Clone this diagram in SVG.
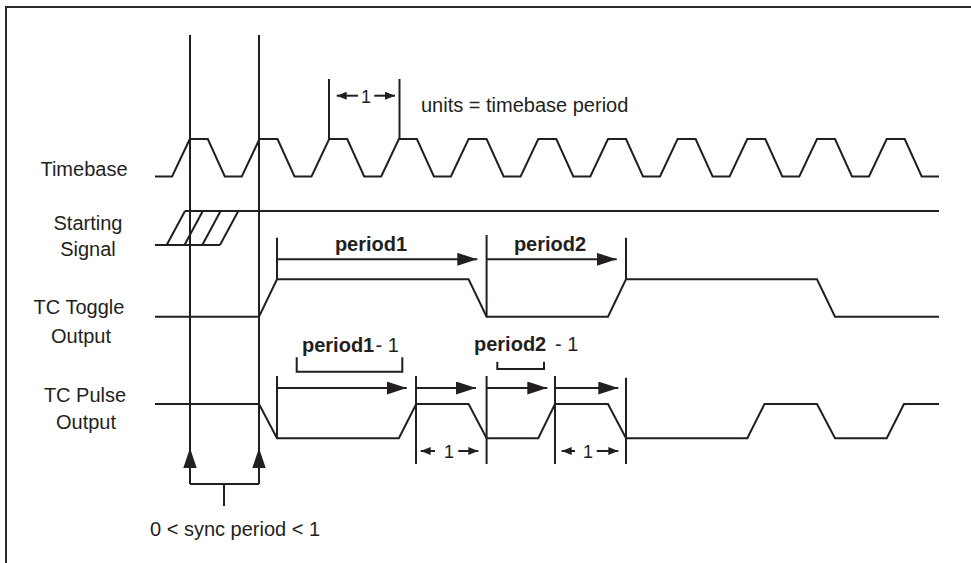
<svg xmlns="http://www.w3.org/2000/svg" width="971" height="563" viewBox="0 0 971 563">
<style>
.w{fill:none;stroke:#231f20;stroke-width:2;stroke-linejoin:miter}
.v{fill:none;stroke:#231f20;stroke-width:2}
.s{fill:none;stroke:#231f20;stroke-width:2}
.t{font-family:"Liberation Sans",Arial,sans-serif;font-size:20px;fill:#231f20}
.n{font-family:"Liberation Sans",Arial,sans-serif;font-size:18px;fill:#231f20}
.b{font-weight:bold}
</style>
<defs>
<marker id="big" markerUnits="userSpaceOnUse" markerWidth="21" markerHeight="14" refX="20" refY="6.5" orient="auto"><path d="M0,0 L20,6.5 L0,13 Z" fill="#231f20"/></marker>
<marker id="sm" markerUnits="userSpaceOnUse" markerWidth="11" markerHeight="9" refX="10" refY="4" orient="auto"><path d="M0,0 L10,4 L0,8 Z" fill="#231f20"/></marker>
<path id="up" d="M-6.7,20 L0,0 L6.7,20 Z" fill="#231f20"/>
</defs>
<rect width="971" height="563" fill="#fff"/>
<path d="M6,563 V7 H971" fill="none" stroke="#2b2b2b" stroke-width="2"/>

<g id="labels">
<text class="t" x="84" y="176" text-anchor="middle">Timebase</text>
<text class="t" x="88" y="230" text-anchor="middle">Starting</text>
<text class="t" x="88" y="256" text-anchor="middle">Signal</text>
<text class="t" x="79" y="314" text-anchor="middle">TC Toggle</text>
<text class="t" x="81" y="342.5" text-anchor="middle">Output</text>
<text class="t" x="85" y="401.5" text-anchor="middle">TC Pulse</text>
<text class="t" x="86" y="429" text-anchor="middle">Output</text>
</g>

<g id="timebase">
<path class="w" d="M155,176.5 H172.1 L189.8,139 H207.8 L224.8,176.5 H241.8 L259.5,139 H277.5 L294.5,176.5 H311.5 L329.2,139 H347.2 L364.2,176.5 H381.2 L398.9,139 H416.9 L433.9,176.5 H450.9 L468.6,139 H486.6 L503.6,176.5 H520.6 L538.3,139 H556.3 L573.3,176.5 H590.3 L608,139 H626 L643,176.5 H660 L677.6,139 H695.6 L712.6,176.5 H729.6 L747.3,139 H765.3 L782.3,176.5 H799.3 L817,139 H835 L852,176.5 H869 L886.7,139 H904.7 L921.7,176.5 H939"/>
<path class="v" d="M329,79 V139 M399.5,79 V139"/>
<line class="s" x1="358" y1="95.7" x2="336.7" y2="95.7" marker-end="url(#sm)"/>
<line class="s" x1="374.3" y1="95.7" x2="395" y2="95.7" marker-end="url(#sm)"/>
<text class="n" x="366" y="102.7" text-anchor="middle">1</text>
<text class="t" x="421" y="111.7">units = timebase period</text>
</g>

<g id="starting-signal">
<path class="w" d="M155,245 H220 M185,211 H939 M166.7,245 L185,211 M184.5,245 L202.8,211 M202.3,245 L220.6,211 M220,245 L238.3,211"/>
</g>

<g id="toggle-output">
<path class="w" d="M155,316.7 H259 L277,279.3 H468.6 L486.6,316.7 H608 L626,279.3 H817 L835,316.7 H939"/>
<path class="v" d="M277,237.7 V279.3 M486.6,235 V316.7 M626,237.7 V279.3"/>
<line class="v" x1="277" y1="259.3" x2="477.3" y2="259.3" marker-end="url(#big)"/>
<line class="v" x1="486.6" y1="259.3" x2="616.7" y2="259.3" marker-end="url(#big)"/>
<text class="t b" x="371" y="251" text-anchor="middle">period1</text>
<text class="t b" x="550" y="251" text-anchor="middle">period2</text>
</g>

<g id="pulse-output">
<path class="w" d="M155,404 H259 L277,438.3 H398.9 L416.2,404 H468.6 L486.6,438.3 H538.3 L555,404 H608 L626,438.3 H747.3 L764.5,404 H817 L835,438.3 H886.7 L904,404 H939"/>
<path class="v" d="M277,376 V438.3 M416,376 V464 M486.6,376 V464 M555,376 V464 M626,377.7 V464"/>
<line class="v" x1="277" y1="388" x2="406.7" y2="388" marker-end="url(#big)"/>
<line class="v" x1="416" y1="388" x2="476" y2="388" marker-end="url(#big)"/>
<line class="v" x1="486.6" y1="388" x2="547.3" y2="388" marker-end="url(#big)"/>
<line class="v" x1="555" y1="388" x2="618.3" y2="388" marker-end="url(#big)"/>
<path class="v" d="M296.7,357.3 V371.7 H402.3 V357.3"/>
<path class="v" d="M497.3,361.7 V369 H544 V361.7"/>
<text class="t" y="351.7"><tspan class="b" x="302">period1</tspan><tspan x="375.5">- 1</tspan></text>
<text class="t" y="351"><tspan class="b" x="474">period2</tspan><tspan x="555">- 1</tspan></text>
<line class="s" x1="435" y1="451" x2="420.7" y2="451" marker-end="url(#sm)"/>
<line class="s" x1="458.3" y1="451" x2="478.3" y2="451" marker-end="url(#sm)"/>
<text class="n" x="449" y="457.7" text-anchor="middle">1</text>
<line class="s" x1="575" y1="451" x2="561.7" y2="451" marker-end="url(#sm)"/>
<line class="s" x1="596.7" y1="451" x2="618.3" y2="451" marker-end="url(#sm)"/>
<text class="n" x="588" y="457.7" text-anchor="middle">1</text>
</g>

<g id="sync">
<path class="v" d="M190,35 V484 M259,35 V484 M190,484 H259 M224,484 V506"/>
<use href="#up" x="190" y="448"/>
<use href="#up" x="259" y="448"/>
<text class="t" x="150" y="535.5">0 &lt; sync period &lt; 1</text>
</g>
</svg>
